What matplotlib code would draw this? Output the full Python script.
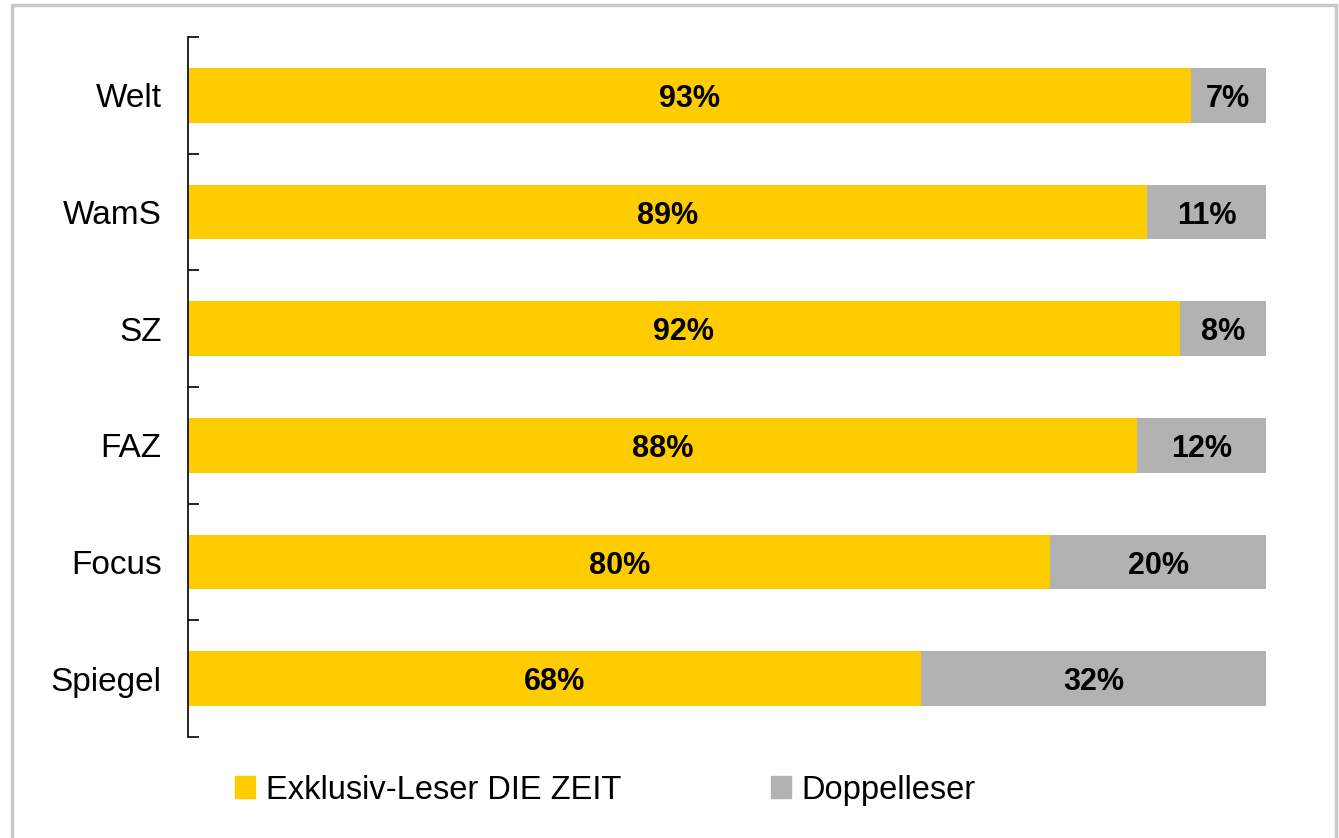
import matplotlib
matplotlib.use("Agg")
import matplotlib.pyplot as plt
from matplotlib.patches import Rectangle, Patch
import numpy as np

plt.rcParams['font.family'] = ['Liberation Sans', 'DejaVu Sans']

# data (top to bottom)
titles = ["Welt", "WamS", "SZ", "FAZ", "Focus", "Spiegel"]
exklusiv = [93, 89, 92, 88, 80, 68]
doppel = [7, 11, 8, 12, 20, 32]
series_names = ["Exklusiv-Leser DIE ZEIT", "Doppelleser"]

yellow = "#FFCC00"
grey = "#B2B2B2"

W, H = 1339, 838
fig = plt.figure(figsize=(W / 100, H / 100), dpi=100)
ax = fig.add_axes([188 / W, 1 - 737 / H, (1266 - 188) / W, (737 - 37) / H])

y = np.arange(len(titles))
bar_h = 0.47
ax.barh(y, exklusiv, height=bar_h, color=yellow)
ax.barh(y, doppel, left=exklusiv, height=bar_h, color=grey)

for i in range(len(titles)):
    ax.text(exklusiv[i] / 2, y[i], f"{exklusiv[i]}%", ha="center", va="center_baseline",
            fontsize=22, fontweight="bold")
    ax.text(exklusiv[i] + doppel[i] / 2, y[i], f"{doppel[i]}%", ha="center",
            va="center_baseline", fontsize=22, fontweight="bold")

ax.set_xlim(0, 100)
ax.set_ylim(len(titles) - 0.5, -0.5)
ax.set_yticks(y)
ax.set_yticklabels(titles, fontsize=24)
ax.set_yticks(np.arange(-0.5, len(titles)), minor=True)
ax.tick_params(axis="y", which="major", length=0, pad=19)
ax.tick_params(axis="y", which="minor", direction="in", length=8, width=1.2)
ax.set_xticks([])
for s in ["top", "right", "bottom"]:
    ax.spines[s].set_visible(False)
ax.spines["left"].set_linewidth(1.2)

handles = [Patch(color=yellow), Patch(color=grey)]
fig.legend(handles, series_names, loc="center left",
           bbox_to_anchor=(235 / W, 1 - 790 / H), ncol=2, frameon=False,
           fontsize=23.5, borderpad=0, borderaxespad=0,
           handlelength=0.62, handleheight=0.62, handletextpad=0.32,
           columnspacing=4.6)

# outer frame
fig.patches.append(Rectangle((12 / W, -0.05), (1336 - 12) / W, 1.05 - 5 / H,
                             transform=fig.transFigure, fill=False,
                             edgecolor="#C8C8C8", linewidth=2.5))

fig.savefig("out.png", dpi=100)
